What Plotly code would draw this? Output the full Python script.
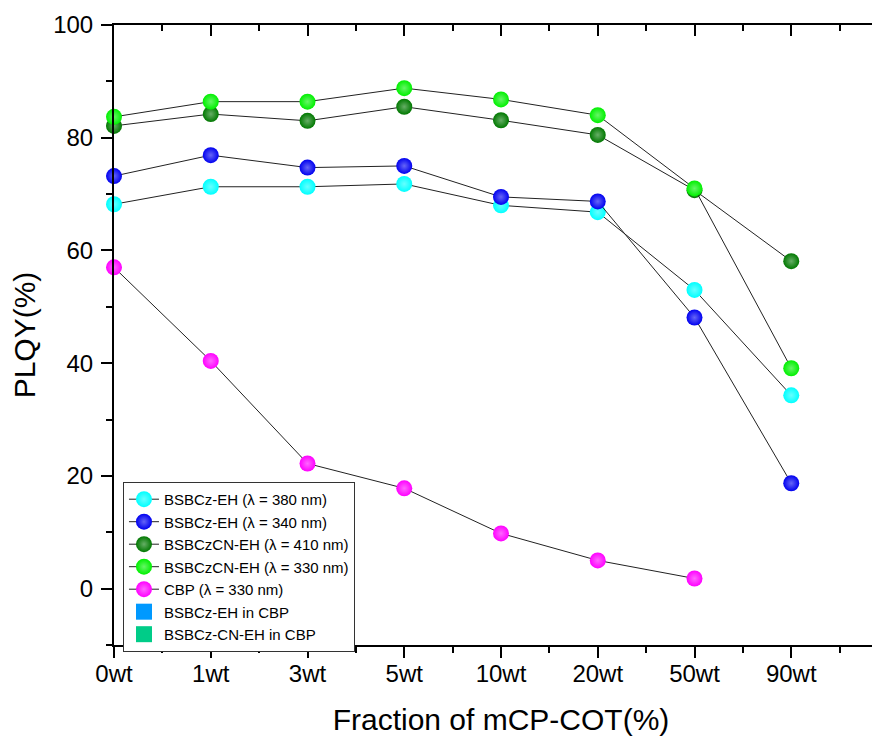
import plotly.graph_objects as go

categories = ["0wt", "1wt", "3wt", "5wt", "10wt", "20wt", "50wt", "90wt"]
x_pos = [0, 1, 2, 3, 4, 5, 6, 7]

bsbcz_380 = [68.2, 71.3, 71.3, 71.8, 68.0, 66.8, 53.0, 34.3]
bsbcz_340 = [73.2, 76.9, 74.7, 75.0, 69.5, 68.7, 48.1, 18.7]
bsbczcn_410 = [82.1, 84.2, 83.0, 85.5, 83.1, 80.5, 70.7, 58.1]
bsbczcn_330 = [83.7, 86.4, 86.4, 88.8, 86.8, 84.0, 71.0, 39.1]
cbp_330 = [57.0, 40.4, 22.2, 17.8, 9.8, 5.0, 1.8]

cbp_x = [8]
bsbcz_in_cbp = [82.0]
bsbczcn_in_cbp = [92.2]

y_ticks = [0, 20, 40, 60, 80, 100]

FONT = "Liberation Sans, Arial, sans-serif"


def tint(hexc, f):
    hexc = hexc.lstrip("#")
    r, g, b = (int(hexc[i:i + 2], 16) for i in (0, 2, 4))
    r = int(r + (255 - r) * f)
    g = int(g + (255 - g) * f)
    b = int(b + (255 - b) * f)
    return f"rgb({r},{g},{b})"


series = [
    ("BSBCz-EH (λ = 380 nm)", bsbcz_380, "#00FFFF"),
    ("BSBCz-EH (λ = 340 nm)", bsbcz_340, "#0000F0"),
    ("BSBCzCN-EH (λ = 410 nm)", bsbczcn_410, "#007800"),
    ("BSBCzCN-EH (λ = 330 nm)", bsbczcn_330, "#00F000"),
    ("CBP (λ = 330 nm)", cbp_330, "#FF00FF"),
]

fig = go.Figure()
for name, vals, col in series:
    fig.add_trace(go.Scatter(
        x=x_pos[:len(vals)], y=vals, name=name, mode="lines+markers",
        line=dict(color="#222222", width=1),
        marker=dict(size=16, color=col, line=dict(width=0),
                    gradient=dict(type="radial", color=tint(col, 0.4))),
        cliponaxis=False,
    ))

fig.add_trace(go.Scatter(
    x=cbp_x, y=bsbcz_in_cbp, name="BSBCz-EH in CBP", mode="markers",
    marker=dict(symbol="square", size=18, color="#0099FF", line=dict(width=0)),
    cliponaxis=True,
))
fig.add_trace(go.Scatter(
    x=cbp_x, y=bsbczcn_in_cbp, name="BSBCz-CN-EH in CBP", mode="markers",
    marker=dict(symbol="square", size=18, color="#00CC88", line=dict(width=0)),
    cliponaxis=True,
))
# helper traces so the mirrored top / right axes are drawn
fig.add_trace(go.Scatter(x=[None], y=[None], xaxis="x2", showlegend=False,
                         hoverinfo="skip", mode="markers"))
fig.add_trace(go.Scatter(x=[None], y=[None], yaxis="y2", showlegend=False,
                         hoverinfo="skip", mode="markers"))

xrange = [0, 8]
yrange = [-10, 100]

fig.update_layout(
    width=880, height=741,
    margin=dict(l=106, r=0, t=17, b=104, autoexpand=False),
    plot_bgcolor="white", paper_bgcolor="white",
    font=dict(family=FONT, color="black"),
    showlegend=True,
    legend=dict(
        x=0.0116, y=0.263, xanchor="left", yanchor="top",
        bgcolor="white", bordercolor="#333333", borderwidth=1,
        font=dict(family=FONT, size=15, color="black"),
        itemsizing="trace", tracegroupgap=0,
    ),
    xaxis=dict(
        range=xrange, tickmode="array", tickvals=x_pos, ticktext=categories,
        showgrid=False, zeroline=False, automargin=False,
        showline=True, linecolor="black", linewidth=2,
        ticks="outside", ticklen=11, tickwidth=2, tickcolor="black",
        tickfont=dict(family=FONT, size=24, color="black"),
        ticklabelstandoff=-5,
        minor=dict(tick0=0.5, dtick=1, ticks="outside", ticklen=6,
                   tickwidth=2, tickcolor="black", showgrid=False),
        title=dict(text="Fraction of mCP-COT(%)",
                   font=dict(family=FONT, size=30, color="black"),
                   standoff=23),
    ),
    xaxis2=dict(
        overlaying="x", side="top", range=xrange, automargin=False,
        tickmode="array", tickvals=x_pos + [8], showticklabels=False,
        showgrid=False, zeroline=False,
        showline=True, linecolor="black", linewidth=2,
        ticks="inside", ticklen=11, tickwidth=2, tickcolor="black",
        minor=dict(tick0=0.5, dtick=1, ticks="inside", ticklen=6,
                   tickwidth=2, tickcolor="black", showgrid=False),
    ),
    yaxis=dict(
        range=yrange, tickmode="array", tickvals=y_ticks,
        showgrid=False, zeroline=False, automargin=False,
        showline=True, linecolor="black", linewidth=2,
        ticks="outside", ticklen=11, tickwidth=2, tickcolor="black",
        tickfont=dict(family=FONT, size=24, color="black"),
        ticklabelstandoff=3,
        minor=dict(tick0=-10, dtick=20, ticks="outside", ticklen=6,
                   tickwidth=2, tickcolor="black", showgrid=False),
        title=dict(text="PLQY(%)",
                   font=dict(family=FONT, size=30, color="black"),
                   standoff=12),
    ),
    yaxis2=dict(
        overlaying="y", side="right", range=yrange, automargin=False,
        tickmode="array", tickvals=y_ticks, showticklabels=False,
        showgrid=False, zeroline=False,
        showline=True, linecolor="black", linewidth=2,
        ticks="inside", ticklen=11, tickwidth=2, tickcolor="black",
    ),
)

fig.write_html("out.html")
